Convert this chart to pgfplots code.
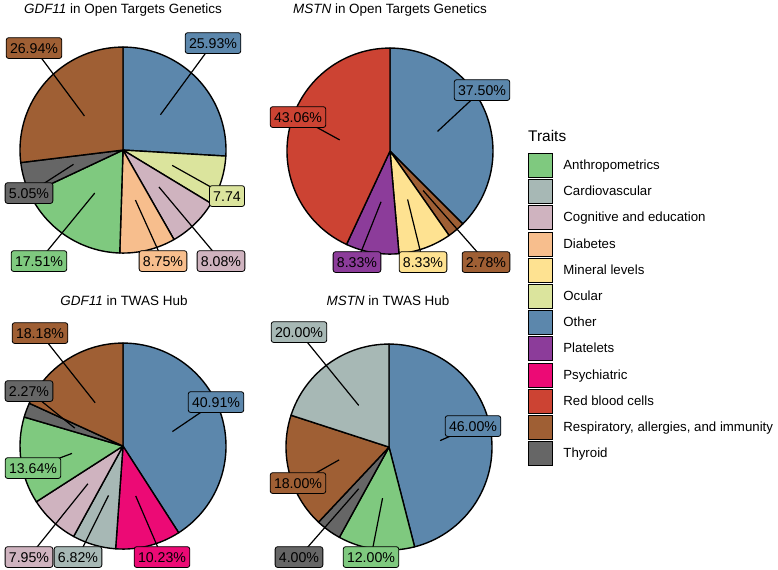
\documentclass[border=0pt]{standalone}
\usepackage{pgfplots}
\usepackage{pgfplotstable}
\pgfplotsset{compat=1.18}
\usepackage{fontspec}
\setmainfont{Liberation Sans}

% palette (Accent ramped to 12 traits), numbered in legend order
\definecolor{tr1}{HTML}{7FC97F}  % Anthropometrics
\definecolor{tr2}{HTML}{A7B8B5}  % Cardiovascular
\definecolor{tr3}{HTML}{CFB3BF}  % Cognitive and education
\definecolor{tr4}{HTML}{F7BE8D}  % Diabetes
\definecolor{tr5}{HTML}{FEE291}  % Mineral levels
\definecolor{tr6}{HTML}{DBE49D}  % Ocular
\definecolor{tr7}{HTML}{5C87AC}  % Other
\definecolor{tr8}{HTML}{8C3C9A}  % Platelets
\definecolor{tr9}{HTML}{EC0A75}  % Psychiatric
\definecolor{tr10}{HTML}{CC4333} % Red blood cells
\definecolor{tr11}{HTML}{9F5F34} % Respiratory, allergies, and immunity
\definecolor{tr12}{HTML}{666666} % Thyroid

% slices clockwise from 12 o'clock; trait = colour index,
% lx ly = label box centre (px), pc = print %
\pgfplotstableread{
pct   trait lx  ly  pc
25.93 7     213 43  1
7.74  6     227 196 0
8.08  3     221 261 1
8.75  4     163 261 1
17.51 1     39  261 1
5.05  12    29  193 1
26.94 11    34  48  1
}\gdfotg
\pgfplotstableread{
pct   trait lx  ly  pc
37.50 7     482 90  1
2.78  11    486 262 1
8.33  5     423 262 1
8.33  8     357 262 1
43.06 10    298 117 1
}\mstnotg
\pgfplotstableread{
pct   trait lx  ly  pc
40.91 7     216 402 1
10.23 9     162 557 1
6.82  2     78  557 1
7.95  3     29  557 1
13.64 1     33  468 1
2.27  12    29  391 1
18.18 11    40  333 1
}\gdftwas
\pgfplotstableread{
pct   trait lx  ly  pc
46.00 7     473 426 1
12.00 1     371 557 1
4.00  12    299 557 1
18.00 11    298 483 1
20.00 2     299 332 1
}\mstntwas

\pgfplotstablecreatecol[create col/expr accum={\pgfmathaccuma+\thisrow{pct}}{0}]{cum}{\gdfotg}
\pgfplotstablecreatecol[create col/expr accum={\pgfmathaccuma+\thisrow{pct}}{0}]{cum}{\mstnotg}
\pgfplotstablecreatecol[create col/expr accum={\pgfmathaccuma+\thisrow{pct}}{0}]{cum}{\gdftwas}
\pgfplotstablecreatecol[create col/expr accum={\pgfmathaccuma+\thisrow{pct}}{0}]{cum}{\mstntwas}

\pgfplotsset{
  wedges/.style={forget plot, scatter, only marks, mark=*, mark size=0pt,
    visualization depends on={90-3.6*(\thisrow{cum}-\thisrow{pct}) \as \sa},
    visualization depends on={90-3.6*\thisrow{cum} \as \ea},
    visualization depends on={\thisrow{trait} \as \tk},
    scatter/@pre marker code/.code={%
      \pgfmathtruncatemacro\k{round(\tk)}%
      \fill[fill=tr\k, draw=black, line width=1.4bp, line join=round]
        (0bp,0bp) -- (\sa:103bp) arc[start angle=\sa, end angle=\ea, radius=103bp] -- cycle;},
    scatter/@post marker code/.code={}},
  labels/.style 2 args={forget plot, scatter, only marks, mark=*, mark size=0pt,
    visualization depends on={90-3.6*(\thisrow{cum}-\thisrow{pct}/2) \as \ma},
    visualization depends on={\thisrow{lx}-#1 \as \dx},
    visualization depends on={#2-\thisrow{ly} \as \dy},
    visualization depends on={\thisrow{trait} \as \tk},
    visualization depends on={\thisrow{pct} \as \pv},
    visualization depends on={\thisrow{pc} \as \pc},
    scatter/@pre marker code/.code={%
      \pgfmathtruncatemacro\k{round(\tk)}%
      \pgfmathtruncatemacro\p{round(\pc)}%
      \draw[black, line width=1.2bp] (\ma:51.5bp) -- (\dx bp,\dy bp);
      \node[fill=tr\k, draw=black, line width=0.8bp, rounded corners=2.5bp,
        inner xsep=3.8bp, inner ysep=5.3bp, text height=10.2bp, text depth=0bp,
        font=\fontsize{14.2}{17}\selectfont] at (\dx bp,\dy bp)
        {\pgfmathprintnumber[fixed, fixed zerofill, precision=2, assume math mode=true]{\pv}\ifnum\p=1 \%\fi};},
    scatter/@post marker code/.code={}},
}

\begin{document}
\begin{tikzpicture}
\begin{axis}[
  width=778bp, height=569bp, scale only axis,
  xmin=0, xmax=778, ymin=0, ymax=569, y dir=reverse,
  hide axis, clip=false,
  legend style={at={(axis cs:528,153)}, anchor=north west, draw=none, fill=none,
    inner sep=0pt, outer sep=0pt, row sep=1.4bp, column sep=0pt,
    font=\fontsize{13.3}{16}\selectfont, nodes={inner sep=0pt, anchor=west}},
  legend cell align=left,
  legend image code/.code={%
    \draw[#1, draw=black, line width=0.8bp] (0bp,-12bp) rectangle (24bp,12bp);
    \path[draw=none, fill=none] (24bp,0bp) -- (35bp,0bp);},
  ]
  % fix the page to the reference frame
  \path[draw=none] (axis cs:0,0) rectangle (axis cs:778,569);
  % pies
  \addplot[wedges] table[x expr=123, y expr=150] {\gdfotg};
  \addplot[wedges] table[x expr=390, y expr=151] {\mstnotg};
  \addplot[wedges] table[x expr=123, y expr=446] {\gdftwas};
  \addplot[wedges] table[x expr=389, y expr=447] {\mstntwas};
  % repelled labels
  \addplot[labels={123}{150}] table[x expr=123, y expr=150] {\gdfotg};
  \addplot[labels={390}{151}] table[x expr=390, y expr=151] {\mstnotg};
  \addplot[labels={123}{446}] table[x expr=123, y expr=446] {\gdftwas};
  \addplot[labels={389}{447}] table[x expr=389, y expr=447] {\mstntwas};

  % titles
  \node[anchor=base, font=\fontsize{13.5}{16}\selectfont] at (axis cs:123,13) {\textit{GDF11} in Open Targets Genetics};
  \node[anchor=base, font=\fontsize{13.5}{16}\selectfont] at (axis cs:390,13) {\textit{MSTN} in Open Targets Genetics};
  \node[anchor=base, font=\fontsize{13.5}{16}\selectfont] at (axis cs:124,305) {\textit{GDF11} in TWAS Hub};
  \node[anchor=base, font=\fontsize{13.5}{16}\selectfont] at (axis cs:388,305) {\textit{MSTN} in TWAS Hub};
  \node[anchor=base west, inner sep=0pt, font=\fontsize{15.5}{18}\selectfont] at (axis cs:528,141.5) {Traits};

  \addlegendimage{fill=tr1}\addlegendentry{Anthropometrics}
  \addlegendimage{fill=tr2}\addlegendentry{Cardiovascular}
  \addlegendimage{fill=tr3}\addlegendentry{Cognitive and education}
  \addlegendimage{fill=tr4}\addlegendentry{Diabetes}
  \addlegendimage{fill=tr5}\addlegendentry{Mineral levels}
  \addlegendimage{fill=tr6}\addlegendentry{Ocular}
  \addlegendimage{fill=tr7}\addlegendentry{Other}
  \addlegendimage{fill=tr8}\addlegendentry{Platelets}
  \addlegendimage{fill=tr9}\addlegendentry{Psychiatric}
  \addlegendimage{fill=tr10}\addlegendentry{Red blood cells}
  \addlegendimage{fill=tr11}\addlegendentry{Respiratory, allergies, and immunity}
  \addlegendimage{fill=tr12}\addlegendentry{Thyroid}
\end{axis}
\end{tikzpicture}
\end{document}
